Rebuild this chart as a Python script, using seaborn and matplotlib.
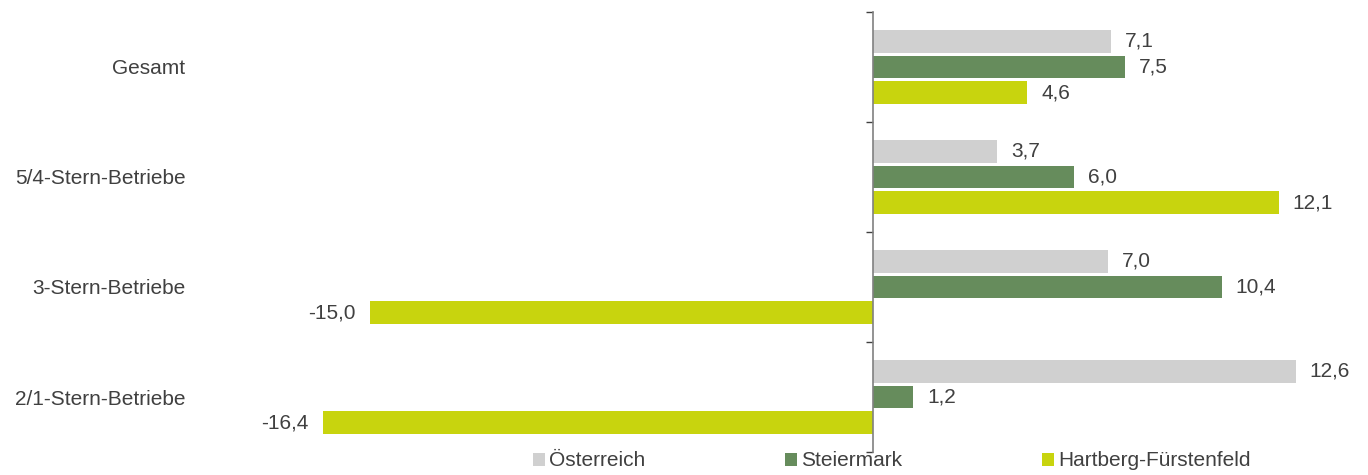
import matplotlib
matplotlib.use("Agg")
import matplotlib.pyplot as plt
from matplotlib.patches import Patch
import seaborn as sns
import pandas as pd

categories = ["Gesamt", "5/4-Stern-Betriebe", "3-Stern-Betriebe", "2/1-Stern-Betriebe"]
series = ["Österreich", "Steiermark", "Hartberg-Fürstenfeld"]
oesterreich = [7.1, 3.7, 7.0, 12.6]
steiermark = [7.5, 6.0, 10.4, 1.2]
hartberg = [4.6, 12.1, -15.0, -16.4]
colors = ["#d0d0d0", "#668c5c", "#c8d40e"]

rows = []
for name, vals in zip(series, [oesterreich, steiermark, hartberg]):
    for c, v in zip(categories, vals):
        rows.append({"Kategorie": c, "Region": name, "Wert": v})
df = pd.DataFrame(rows)

sns.set_style("white")
plt.rcParams["font.family"] = ["Liberation Sans", "DejaVu Sans"]
text_color = "#404040"
fs = 15

fig = plt.figure(figsize=(13.68, 4.75), dpi=100)
ax = fig.add_axes([0.17219, 0.04842, 0.80932, 0.92632])

sns.barplot(data=df, y="Kategorie", x="Wert", hue="Region", order=categories,
            hue_order=series, palette=colors, orient="h", width=0.70, gap=0.125,
            legend=False, ax=ax, saturation=1, errorbar=None, linewidth=0)

for cont in ax.containers:
    vals = cont.datavalues
    ax.bar_label(cont, labels=[f"{v:.1f}".replace(".", ",") for v in vals],
                 padding=10, fontsize=fs, color=text_color)

ax.set_xlim(-19, 14)
ax.set_ylim(3.5, -0.5)
ax.set_xlabel("")
ax.set_ylabel("")
ax.set_xticks([])

for s in ["top", "right", "bottom"]:
    ax.spines[s].set_visible(False)
ax.spines["left"].set_position(("data", 0))
ax.spines["left"].set_color("#808080")
ax.spines["left"].set_linewidth(1.2)

ax.set_yticks(range(len(categories)))
ax.set_yticklabels(categories)
ax.tick_params(axis="y", which="major", length=0, pad=495, labelsize=fs, labelcolor=text_color)
ax.set_yticks([-0.5, 0.5, 1.5, 2.5, 3.5], minor=True)
ax.tick_params(axis="y", which="minor", length=5, width=1, color="#404040", left=True, direction="out")

handles = [Patch(facecolor=c, edgecolor="none") for c in colors]
fig.legend(handles, series, loc="center", bbox_to_anchor=(892 / 1368, 1 - 461 / 475),
           ncol=3, frameon=False, fontsize=fs, handlelength=0.58, handleheight=0.58,
           handletextpad=0.2, columnspacing=6.7, labelcolor=text_color)

fig.savefig("out.png", dpi=100)
